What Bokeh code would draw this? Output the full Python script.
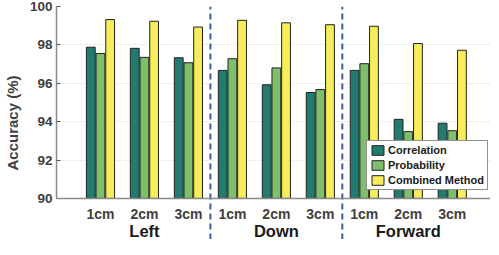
import numpy as np
from bokeh.plotting import figure
from bokeh.models import (Range1d, FixedTicker, Span, Legend, LegendItem,
                          ColumnDataSource)
from bokeh.core.properties import value
from bokeh.transform import dodge
from bokeh.embed import file_html
from bokeh.resources import INLINE

groups = ["Left", "Down", "Forward"]
distances = ["1cm", "2cm", "3cm"]
correlation = [97.88, 97.82, 97.33, 96.67, 95.92, 95.52, 96.67, 94.12, 93.92]
probability = [97.55, 97.35, 97.07, 97.28, 96.80, 95.67, 97.02, 93.48, 93.53]
combined = [99.32, 99.23, 98.93, 99.28, 99.15, 99.05, 98.97, 98.07, 97.72]
y_ticks = [90, 92, 94, 96, 98, 100]

FONT = "Liberation Sans"
C_COR = "#237b6f"
C_PRO = "#7dbf6b"
C_COM = "#f7ec5a"

pos = np.arange(1, len(correlation) + 1)
src = ColumnDataSource(dict(x=pos, cor=correlation, pro=probability, com=combined))

y0 = 87.86
p = figure(width=490, height=239, output_backend="svg", toolbar_location=None,
           x_range=Range1d(0, 9.87), y_range=Range1d(y0, 100),
           min_border_left=49, min_border_right=0, min_border_top=6,
           min_border_bottom=0)
p.outline_line_color = None
p.xaxis.visible = False
p.xgrid.visible = False

yax = p.yaxis[0]
yax.bounds = (90, 100)
yax.ticker = FixedTicker(ticks=y_ticks)
yax.minor_tick_line_color = None
yax.major_tick_in = 4
yax.major_tick_out = 0
yax.axis_line_color = "#8a8a8a"
yax.axis_line_width = 1.5
yax.major_tick_line_color = "#555555"
yax.major_label_text_font = FONT
yax.major_label_text_font_style = "bold"
yax.major_label_text_font_size = "13.5px"
yax.major_label_text_color = "#404040"
yax.axis_label = "Accuracy (%)"
yax.axis_label_text_font = FONT
yax.axis_label_text_font_style = "bold"
yax.axis_label_text_font_size = "15px"
yax.axis_label_text_color = "#404040"
yax.axis_label_standoff = 6
yax.major_label_standoff = 4

p.ygrid.ticker = FixedTicker(ticks=y_ticks[1:])
p.ygrid.grid_line_color = "#d0d0d0"
p.ygrid.grid_line_dash = "1 2"

p.add_layout(Span(location=90, dimension="width", line_color="#8a8a8a", line_width=1.5))

w = 0.2
r1 = p.vbar(x=dodge("x", -0.22, range=p.x_range), top="cor", bottom=90, width=w,
            source=src, fill_color=C_COR, line_color="#222222", line_width=1)
r2 = p.vbar(x=dodge("x", 0.0, range=p.x_range), top="pro", bottom=90, width=w,
            source=src, fill_color=C_PRO, line_color="#222222", line_width=1)
r3 = p.vbar(x=dodge("x", 0.22, range=p.x_range), top="com", bottom=90, width=w,
            source=src, fill_color=C_COM, line_color="#222222", line_width=1)

# category tick labels
tick_labels = [d for g in groups for d in distances]
p.text(x=list(pos), y=[89.2] * len(pos), text=tick_labels,
       text_font=value(FONT), text_font_style="bold", text_font_size="14px",
       text_color="#404040", text_align="center", text_baseline="middle")
group_x = [2, 5, 8]
p.text(x=group_x, y=[88.3] * 3, text=groups,
       text_font=value(FONT), text_font_style="bold", text_font_size="16.5px",
       text_color="#1a1a1a", text_align="center", text_baseline="middle")

# dashed dividers
p.segment(x0=[3.5, 6.5], y0=[y0, y0], x1=[3.5, 6.5], y1=[100, 100],
          line_color="#3b5ba5", line_width=2, line_dash="6 4")

legend = Legend(items=[LegendItem(label="Correlation", renderers=[r1]),
                       LegendItem(label="Probability", renderers=[r2]),
                       LegendItem(label="Combined Method", renderers=[r3])],
                location=(310, 49))
legend.label_text_font = FONT
legend.label_text_font_style = "bold"
legend.label_text_font_size = "11px"
legend.label_text_color = "#1a1a1a"
legend.glyph_width = 15
legend.glyph_height = 12
legend.label_height = 12
legend.label_standoff = 3
legend.spacing = 3
legend.padding = 3
legend.margin = 0
legend.border_line_color = "#222222"
legend.border_line_width = 1
legend.background_fill_alpha = 1
p.add_layout(legend)

open("out.html", "w").write(file_html(p, INLINE))
